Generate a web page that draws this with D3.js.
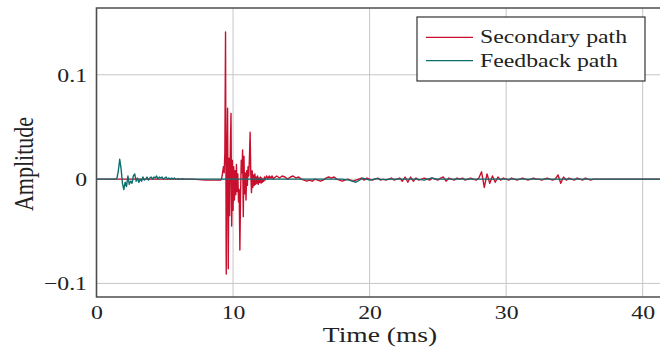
<!DOCTYPE html>
<html>
<head>
<meta charset="utf-8">
<script src="https://cdn.jsdelivr.net/npm/d3@7"></script>
<style>
  body { margin: 0; background: #fff; }
  svg { display: block; }
</style>
</head>
<body>
<svg id="chart"></svg>
<script>
// values are in units of 1e-3 (amplitude), times in ms
const xTicks = [0, 10, 20, 30, 40];
const yTicks = [-0.1, 0, 0.1];
const seriesNames = ["Secondary path", "Feedback path"];

// secondary path: quiet start (0..8.5 ms, step 0.5)
const secQuiet = [0, 0, 0, 0, 0, 0, 0, 0, 0, 0, 0, 0, 0, 0, 0, -0.5, -1, -1];
// secondary path: main burst (9.0..13.0 ms, step 0.05)
const secBurst = [
  -1, -1, -1, 0, 3, 8, 12, 6, 25, 141,
  -91, 10, 68, -86, 20, -35, 28, 63, -45, 18,
  -30, 12, -20, 8, -15, 14, -12, 5, -22, -10,
  -68, -15, 18, 6, 28, -36, 22, -14, 6, -20,
  8, -6, 12, 3, 20, 45, 5, -13, 8, -8,
  4, -6, 5, -5, 2, -4, 3, -5, 1, -3,
  2, -4, 1, -3, 0, -2, 2, -1, 1, 3,
  2, 0, 2, 3, 1, 2, 1, 3, 2, 0, 1
];
// secondary path: tail (13.2..42.0 ms, step 0.2)
const secTail = [
  3, 1, 3, 2, 0, 2, 3, 1, 2,
  0, -1, -2, -1, -2, 0, -1, -2, -1, 1,
  2, 1, 2, 0, -1, -2, -1, 0, -1, -2,
  -1, 0, 1, -1, 1, 0, -1, 0, 1, -1,
  0, -1, 0, 1, -1, 0, 1, -2, 2, -3,
  2, -2, 1, -1, 0, 1, 0, -1, 1, 0,
  -1, 1, 2, -2, 1, 0, -1, 1, 0, 1,
  -1, 0, 1, 0, -1, 1, 7, -8, 5, -4,
  3, -3, 2, -1, 1, 0, -1, 1, 0, -1,
  0, 1, 0, -1, 0, 1, 0, 0, -1, 0,
  1, 0, -1, 0, 4, -4, 2, -1, 1, 0,
  -1, 1, 0, -1, 1, 0, -1, 0, 0, 0,
  0, 0, 0, 0, 0, 0, 0, 0, 0, 0, 0, 0, 0,
  0, 0, 0, 0, 0, 0, 0, 0, 0, 0, 0, 0, 0
];

// feedback path: burst (0..7.0 ms, step 0.1)
const fbBurst = [
  0, 0, 0, 0, 0, 0, 0, 0, 0, 0, 0, 0, 0, 0, 0,
  1, 8, 19, 10, -4, -10, -3, -7, 3, -5,
  -2, -4, 3, 5, -2, 1, -3, 0, -2, 2,
  -1, 0, 2, -1, 1, 2, 0, 2, 1, 3,
  0, 2, 1, 2, 0, 1, 2, 0, 1, 0,
  1, 0, 1, 0, 0, 0.5, 0, 0, 0.5, 0,
  0, 0, 0, 0, 0, 0
];
// feedback path: tail (7.5..42.0 ms, step 0.5)
const fbTail = [
  0, 0, 0, 0, 0, 0, 0, 0, 0, 0,
  0, 0, 0, 0, 0, 0, 0, 0, 0, 0,
  0, 0, -1, -3, 1, -1, 0.5, -0.5, 0, 0,
  0, 0, 0, -1, 1, 0, 0, 0, 0, 0,
  0, 0, 0, 0, 0, 0, 0, 0, 0, 0,
  0, 0, 0, 0, 0, 0, 0, 0, 0, 0,
  0, 0, 0, 0, 0, 0, 0, 0, 0, 0
];

const width = 660;
const height = 350;
const marginLeft = 96.5;
const marginTop = 8;
const plotBottom = 297;
const plotRight = 670;

const colors = ["#c8102e", "#0d6e6e"];
const fontFamily = "Liberation Serif";
// the reference picture is stretched sideways, so text is too
const stretch = 1.25;

function segment(start, step, values) {
  return values.map((v, i) => ({t: start + i * step, v: v / 1000}));
}

const secondary = [
  ...segment(0, 0.5, secQuiet),
  ...segment(9.0, 0.05, secBurst),
  ...segment(13.2, 0.2, secTail)
];
const feedback = [
  ...segment(0, 0.1, fbBurst),
  ...segment(7.5, 0.5, fbTail)
];

const svg = d3.select("#chart")
  .attr("width", width)
  .attr("height", height)
  .attr("viewBox", [0, 0, width, height])
  .attr("font-family", fontFamily);

const x = d3.scaleLinear().domain([0, 42]).range([marginLeft, plotRight]);
const y = d3.scaleLinear().domain([-0.113, 0.164]).range([plotBottom, marginTop]);

svg.append("defs").append("clipPath")
  .attr("id", "plotClip")
  .append("rect")
  .attr("x", marginLeft)
  .attr("y", marginTop)
  .attr("width", plotRight - marginLeft)
  .attr("height", plotBottom - marginTop);

// grid
svg.append("g")
  .attr("stroke", "#c6c6c6")
  .attr("stroke-width", 1)
  .call(g => g.selectAll("line.vx")
    .data(xTicks)
    .join("line")
    .attr("x1", d => x(d)).attr("x2", d => x(d))
    .attr("y1", marginTop).attr("y2", plotBottom))
  .call(g => g.selectAll("line.hy")
    .data(yTicks)
    .join("line")
    .attr("x1", marginLeft).attr("x2", plotRight)
    .attr("y1", d => y(d)).attr("y2", d => y(d)));

// lines
const line = d3.line()
  .x(d => x(d.t))
  .y(d => y(d.v));

const linesG = svg.append("g").attr("clip-path", "url(#plotClip)");

linesG.append("path")
  .attr("fill", "none")
  .attr("stroke", colors[0])
  .attr("stroke-width", 1.4)
  .attr("stroke-linejoin", "round")
  .attr("d", line(secondary));

linesG.append("path")
  .attr("fill", "none")
  .attr("stroke", colors[1])
  .attr("stroke-width", 1.4)
  .attr("stroke-linejoin", "round")
  .attr("d", line(feedback));

// tick labels
const xAxis = d3.axisBottom(x).tickValues(xTicks).tickSize(0).tickFormat(d3.format("d"));
const yAxis = d3.axisLeft(y).tickValues(yTicks).tickSize(0)
  .tickFormat(d => d === 0 ? "0" : d3.format(".1f")(d).replace("-", "\u2212"));

svg.append("g")
  .attr("transform", `translate(0,${plotBottom})`)
  .call(xAxis)
  .call(g => g.select(".domain").remove())
  .call(g => g.selectAll("text")
    .attr("y", 22)
    .attr("dy", null)
    .attr("transform", `scale(${stretch},1)`)
    .attr("fill", "#222")
    .attr("font-family", fontFamily)
    .attr("font-size", 19));

svg.append("g")
  .attr("transform", "translate(87,0)")
  .call(yAxis)
  .call(g => g.select(".domain").remove())
  .call(g => g.selectAll("text")
    .attr("x", 0)
    .attr("dy", "0.34em")
    .attr("transform", `scale(${stretch},1)`)
    .attr("fill", "#222")
    .attr("font-family", fontFamily)
    .attr("font-size", 19));

// frame (right side runs off the picture)
svg.append("path")
  .attr("fill", "none")
  .attr("stroke", "#4d4d4d")
  .attr("stroke-width", 1.6)
  .attr("d", `M${plotRight},${marginTop}H${marginLeft}V${plotBottom}H${plotRight}`);

svg.append("text")
  .attr("transform", `translate(380,342) scale(${stretch},1)`)
  .attr("text-anchor", "middle")
  .attr("font-size", 22)
  .attr("fill", "#222")
  .text("Time (ms)");

svg.append("text")
  .attr("transform", `translate(33,164) rotate(-90) scale(1,${stretch})`)
  .attr("text-anchor", "middle")
  .attr("font-size", 22)
  .attr("fill", "#222")
  .text("Amplitude");

// legend
const legend = svg.append("g").attr("transform", "translate(417,17)");
legend.append("rect")
  .attr("width", 228)
  .attr("height", 64)
  .attr("fill", "#fff")
  .attr("stroke", "#333")
  .attr("stroke-width", 1.2);

const item = legend.selectAll("g.item")
  .data(seriesNames)
  .join("g")
  .attr("transform", (d, i) => `translate(9,${20.3 + i * 23.4})`);

item.append("line")
  .attr("x1", 0).attr("x2", 47)
  .attr("stroke", (d, i) => colors[i])
  .attr("stroke-width", 1.2);

item.append("text")
  .attr("transform", `translate(54,5.8) scale(${stretch},1)`)
  .attr("font-size", 19)
  .attr("fill", "#222")
  .text(d => d);
</script>
</body>
</html>
